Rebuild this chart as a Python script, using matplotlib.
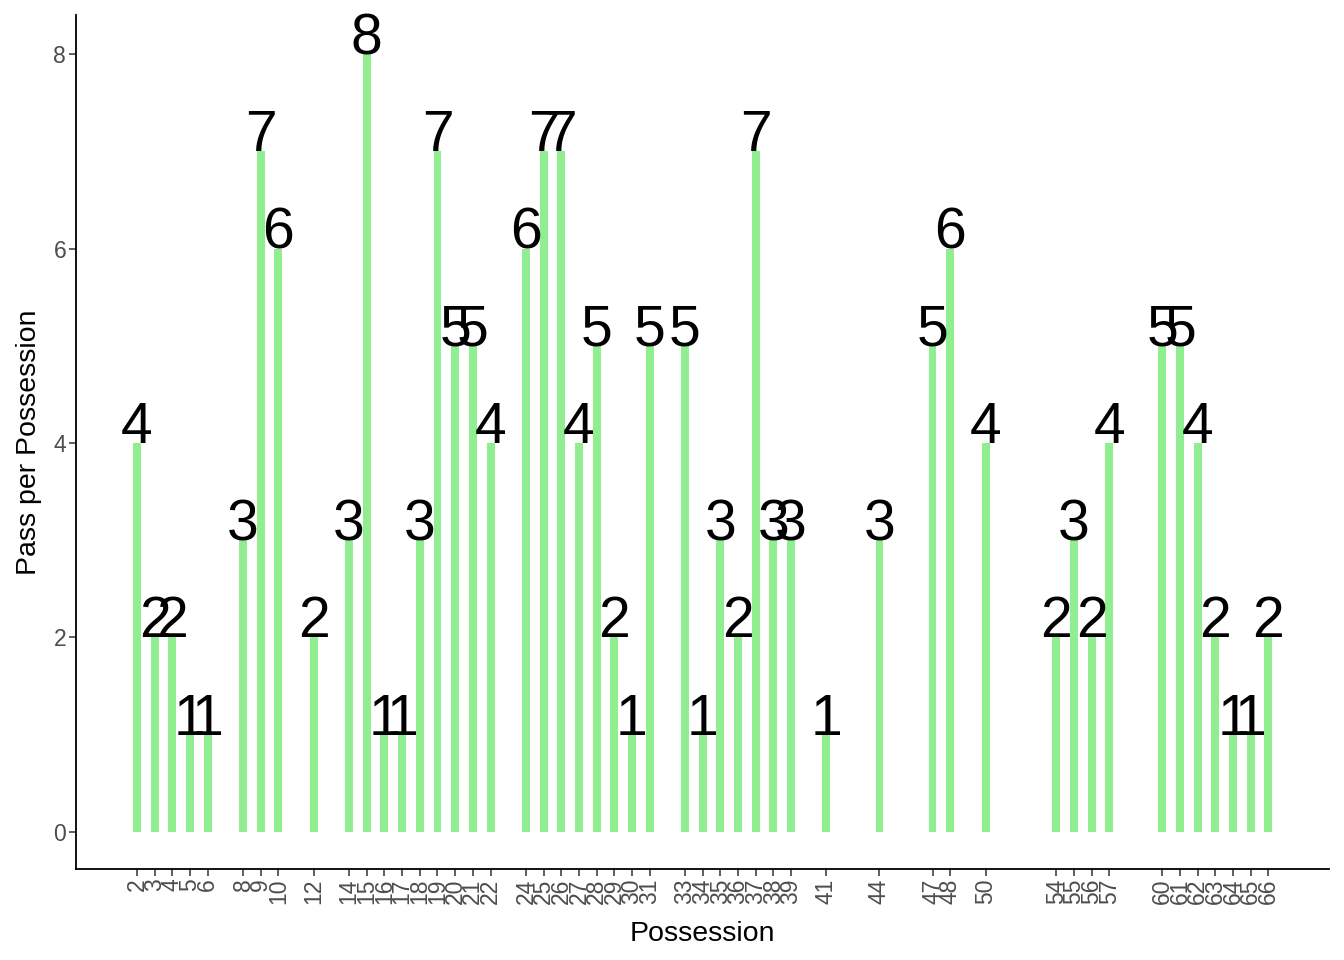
import matplotlib
matplotlib.use("Agg")
import matplotlib.pyplot as plt

plt.rcParams["font.family"] = ["Liberation Sans", "DejaVu Sans"]

possession = [2, 3, 4, 5, 6, 8, 9, 10, 12, 14, 15, 16, 17, 18, 19, 20, 21, 22,
              24, 25, 26, 27, 28, 29, 30, 31, 33, 34, 35, 36, 37, 38, 39, 41,
              44, 47, 48, 50, 54, 55, 56, 57, 60, 61, 62, 63, 64, 65, 66]
passes = [4, 2, 2, 1, 1, 3, 7, 6, 2, 3, 8, 1, 1, 3, 7, 5, 5, 4,
          6, 7, 7, 4, 5, 2, 1, 5, 5, 1, 3, 2, 7, 3, 3, 1,
          3, 5, 6, 4, 2, 3, 2, 4, 5, 5, 4, 2, 1, 1, 2]

fig = plt.figure(figsize=(13.44, 9.6), dpi=100)
ax = fig.add_axes([0.0565, 0.095, 0.932, 0.889])

ax.bar(possession, passes, width=0.45, color="#90EE90")

# value labels on top of each bar
for x, v in zip(possession, passes):
    ax.text(x, v, str(v), ha="center", va="baseline", fontsize=41, color="black")

ax.set_xlim(-1.45, 69.4)
ax.set_ylim(-0.38, 8.4)
ax.set_xticks(possession)
ax.set_xticklabels([str(p) for p in possession], rotation=90)
ax.set_yticks([0, 2, 4, 6, 8])

ax.set_xlabel("Possession", fontsize=20.5, labelpad=12)
ax.set_ylabel("Pass per Possession", fontsize=20.5, labelpad=8)

ax.tick_params(axis="both", labelsize=16.5, labelcolor="#4D4D4D", color="#333333",
               length=5, width=1.1, pad=2)
for side in ["top", "right"]:
    ax.spines[side].set_visible(False)
for side in ["left", "bottom"]:
    ax.spines[side].set_linewidth(1.3)

fig.savefig("out.png", dpi=100)
